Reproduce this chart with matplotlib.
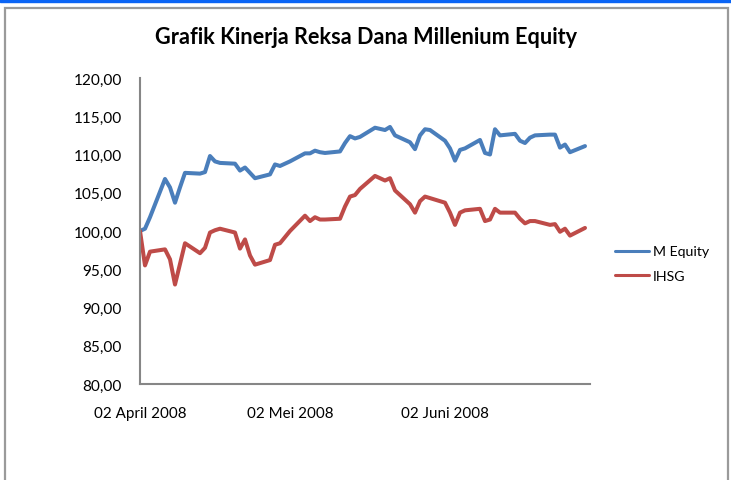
import matplotlib
matplotlib.use("Agg")
import matplotlib.pyplot as plt
from matplotlib.patches import Rectangle
import pandas as pd

# trading days shown on the chart
dates = [
    "2008-04-02", "2008-04-03", "2008-04-04", "2008-04-07", "2008-04-08",
    "2008-04-09", "2008-04-10", "2008-04-11", "2008-04-14", "2008-04-15",
    "2008-04-16", "2008-04-17", "2008-04-18", "2008-04-21", "2008-04-22",
    "2008-04-23", "2008-04-24", "2008-04-25", "2008-04-28", "2008-04-29",
    "2008-04-30", "2008-05-02", "2008-05-05", "2008-05-06", "2008-05-07",
    "2008-05-08", "2008-05-09", "2008-05-12", "2008-05-13", "2008-05-14",
    "2008-05-15", "2008-05-16", "2008-05-19", "2008-05-21", "2008-05-22",
    "2008-05-23", "2008-05-26", "2008-05-27", "2008-05-28", "2008-05-29",
    "2008-05-30", "2008-06-02", "2008-06-03", "2008-06-04", "2008-06-05",
    "2008-06-06", "2008-06-09", "2008-06-10", "2008-06-11", "2008-06-12",
    "2008-06-13", "2008-06-16", "2008-06-17", "2008-06-18", "2008-06-19",
    "2008-06-20", "2008-06-23", "2008-06-24", "2008-06-25", "2008-06-26",
    "2008-06-27", "2008-06-30",
]

m_equity = [
    100.0, 100.3, 101.8, 106.8, 105.7, 103.7, 105.7, 107.6, 107.5, 107.7,
    109.8, 109.1, 108.9, 108.8, 107.9, 108.3, 107.6, 106.9, 107.4, 108.7,
    108.5, 109.1, 110.15, 110.15, 110.5, 110.3, 110.2, 110.4, 111.5, 112.4,
    112.1, 112.3, 113.5, 113.2, 113.6, 112.5, 111.6, 110.7, 112.5, 113.3,
    113.2, 111.8, 110.8, 109.2, 110.6, 110.8, 111.9, 110.2, 110.0, 113.3,
    112.5, 112.7, 111.8, 111.5, 112.2, 112.5, 112.6, 112.6, 110.9, 111.3,
    110.3, 111.1,
]

ihsg = [
    100.0, 95.5, 97.3, 97.6, 96.3, 93.0, 95.7, 98.4, 97.1, 97.8,
    99.8, 100.1, 100.3, 99.8, 97.7, 98.9, 96.8, 95.6, 96.2, 98.2,
    98.4, 100.0, 102.0, 101.3, 101.8, 101.5, 101.5, 101.6, 103.2, 104.5,
    104.7, 105.5, 107.2, 106.6, 106.9, 105.3, 103.5, 102.4, 103.9, 104.5,
    104.3, 103.7, 102.4, 100.8, 102.4, 102.7, 102.9, 101.3, 101.5, 102.9,
    102.4, 102.4, 101.6, 101.0, 101.3, 101.3, 100.8, 100.9, 99.9, 100.3,
    99.4, 100.4,
]

tick_dates = ["2008-04-02", "2008-05-02", "2008-06-02"]
tick_labels = ["02 April 2008", "02 Mei 2008", "02 Juni 2008"]
y_ticks = [80, 85, 90, 95, 100, 105, 110, 115, 120]

plt.rcParams["font.family"] = ["Lato", "DejaVu Sans"]

W, H = 731, 481
fig = plt.figure(figsize=(W / 100, H / 100), dpi=100)

# blue strip on top and grey chart-area frame
fig.patches.append(Rectangle((0, 1 - 3 / H), 1, 3 / H, transform=fig.transFigure,
                             color="#0A64F5", zorder=0))
fig.patches.append(Rectangle((5 / W, -0.05), 723 / W, 1.05 - 9 / H,
                             transform=fig.transFigure, fill=False,
                             edgecolor="#9A9A9A", linewidth=1.6, zorder=0))

ax = fig.add_axes([140 / W, 1 - 385 / H, 450 / W, 306 / H])

x = pd.to_datetime(dates)
ax.plot(x, m_equity, color="#4A7EBB", linewidth=2.9, label="M Equity",
        solid_joinstyle="round", solid_capstyle="round")
ax.plot(x, ihsg, color="#BE4B48", linewidth=2.9, label="IHSG",
        solid_joinstyle="round", solid_capstyle="round")

ax.set_xlim(pd.Timestamp("2008-04-02"), pd.Timestamp("2008-07-01"))
ax.set_ylim(80, 120)
ax.set_yticks(y_ticks)
ax.set_yticklabels([f"{v:.2f}".replace(".", ",") for v in y_ticks], fontsize=11.1)
ax.set_xticks(pd.to_datetime(tick_dates))
ax.set_xticklabels(tick_labels, fontsize=10.9)

ax.tick_params(axis="both", length=0)
ax.tick_params(axis="y", pad=13)
ax.tick_params(axis="x", pad=16)

for side in ["top", "right"]:
    ax.spines[side].set_visible(False)
for side in ["left", "bottom"]:
    ax.spines[side].set_color("#868686")
    ax.spines[side].set_linewidth(1.5)

fig.text(366 / W, 1 - 38 / H, "Grafik Kinerja Reksa Dana Millenium Equity",
         ha="center", va="center", fontsize=15.6, fontweight="bold")

leg = ax.legend(loc="center left", bbox_to_anchor=(602 / W, 1 - 264.5 / H),
                bbox_transform=fig.transFigure, frameon=False, fontsize=10.2,
                handlelength=2.4, handletextpad=0.28, labelspacing=0.85)
for line in leg.get_lines():
    line.set_linewidth(2.2)

fig.savefig("out.png", dpi=100)
